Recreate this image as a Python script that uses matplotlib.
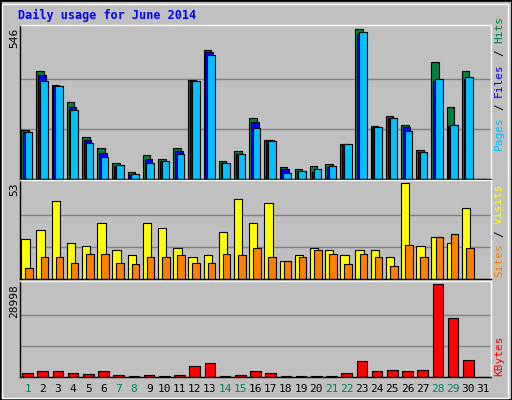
import numpy as np
import matplotlib.pyplot as plt
from matplotlib.patches import Rectangle

days = np.arange(1, 32)
hits = [179, 394, 342, 280, 153, 112, 57, 27, 86, 72, 112, 361, 472, 64, 101,
        223, 143, 42, 38, 49, 53, 127, 546, 194, 231, 198, 105, 427, 264, 394, 0]
files = [172, 379, 338, 264, 142, 94, 46, 16, 72, 64, 101, 357, 464, 60, 90,
         209, 142, 35, 31, 27, 42, 127, 531, 190, 223, 190, 98, 357, 194, 364, 0]
pages = [172, 357, 338, 253, 131, 79, 52, 20, 60, 64, 90, 357, 453, 60, 90,
         186, 138, 23, 31, 38, 46, 127, 538, 190, 223, 175, 98, 364, 198, 372, 0]
visits = [22, 27, 43, 20, 18, 31, 16, 13, 31, 28, 17, 12, 13, 26, 44,
          31, 42, 10, 13, 17, 16, 13, 16, 16, 12, 53, 18, 23, 20, 39, 0]
sites = [6, 12, 12, 9, 14, 14, 9, 8, 12, 12, 13, 9, 9, 14, 13,
         17, 12, 10, 12, 16, 14, 8, 14, 12, 7, 19, 12, 23, 25, 17, 0]
kbytes = [1275, 1912, 1912, 1275, 956, 1912, 637, 320, 637, 320, 637, 3505, 4461, 320, 637,
          1912, 1275, 320, 320, 320, 320, 1275, 5098, 1912, 2230, 1912, 2230, 28998, 18480, 5417, 0]
weekends = [1, 7, 8, 14, 15, 21, 22, 28, 29]

BG = '#C0C0C0'
W, H = 512, 400
fig = plt.figure(figsize=(5.12, 4.0), dpi=100, facecolor=BG)
mono = 'DejaVu Sans Mono'

# outer bevel
fig.patches.append(Rectangle((0, 0), 1, 1, transform=fig.transFigure, fill=False,
                             edgecolor='black', lw=2))
fig.patches.append(Rectangle((2 / W, 2 / H), 1 - 6 / W, 1 - 6 / H, transform=fig.transFigure,
                             fill=False, edgecolor='white', lw=1))


def make_ax(top, bottom, ymax):
    ax = fig.add_axes([20 / W, 1 - bottom / H, 471 / W, (bottom - top) / H])
    ax.set_facecolor(BG)
    ax.set_xlim(0.5, 31.5)
    ax.set_ylim(0, ymax * 1.03)
    ax.set_xticks([])
    ax.set_yticks([])
    for s in ax.spines.values():
        s.set_color('black')
        s.set_linewidth(1)
    ax.spines['top'].set_color('white')
    ax.spines['right'].set_color('white')
    for f in (1 / 3, 2 / 3):
        ax.axhline(ymax * f, color='#808080', lw=1, zorder=0)
    return ax


kw = dict(edgecolor='black', linewidth=0.8, align='edge')
ax1 = make_ax(25, 179, 546)
ax1.bar(days - 0.42, hits, width=0.5, color='#008040', **kw)
ax1.bar(days - 0.3, files, width=0.5, color='#0000FF', **kw)
ax1.bar(days - 0.18, pages, width=0.5, color='#00C0FF', **kw)

ax2 = make_ax(180, 279, 53)
ax2.bar(days - 0.42, visits, width=0.55, color='#FFFF00', **kw)
ax2.bar(days - 0.15, sites, width=0.5, color='#FF8000', **kw)

ax3 = make_ax(281, 377, 28998)
ax3.bar(days - 0.35, kbytes, width=0.7, color='#FF0000', **kw)

for d in days:
    fig.text((20 + (d - 0.5) * 471 / 31) / W, 1 - 389 / H, str(d), ha='center', va='center',
             fontsize=8, family=mono, color='#008060' if d in weekends else 'black')

fig.text(18 / W, 1 - 15 / H, 'Daily usage for June 2014', fontsize=8.5, family=mono,
         weight='bold', color='#0000FF', va='center')

for label, y in (('546', 28), ('53', 183), ('28998', 284)):
    fig.text(14 / W, 1 - y / H, label, rotation=90, fontsize=8, family=mono,
             ha='center', va='top')


def side_label(parts, y_bottom):
    # each monospace character is about 6.7 px tall when rotated
    y = y_bottom
    for txt, col in parts:
        n = len(txt)
        fig.text(499 / W, 1 - (y - n * 6.7 / 2) / H, txt.strip(), rotation=90, fontsize=8,
                 family=mono, color=col, ha='center', va='center')
        y -= n * 6.7


side_label([('Pages', '#00C0FF'), (' / ', 'black'), ('Files', '#0000FF'),
            (' / ', 'black'), ('Hits', '#008040')], 150)
side_label([('Sites', '#FF8000'), (' / ', 'black'), ('Visits', '#FFFF00')], 277)
side_label([('KBytes', '#FF0000')], 376)

fig.savefig('out.png', dpi=100, facecolor=BG)
